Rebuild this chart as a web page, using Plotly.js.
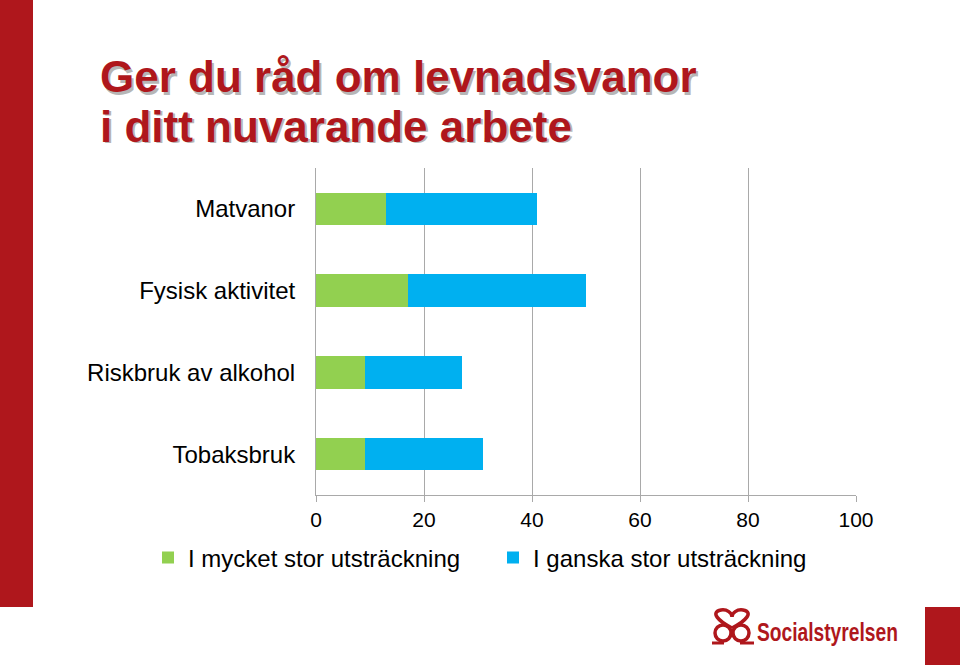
<!DOCTYPE html>
<html>
<head>
<meta charset="utf-8">
<script src="https://cdn.plot.ly/plotly-3.0.1.min.js"></script>
<style>
html,body{margin:0;padding:0;background:#fff;}
#chart{width:960px;height:665px;}
</style>
</head>
<body>
<div id="chart"></div>
<script>
// Data
var categories = ["Matvanor", "Fysisk aktivitet", "Riskbruk av alkohol", "Tobaksbruk"];
var seriesNames = ["I mycket stor utsträckning", "I ganska stor utsträckning"];
var mycketStor = [13, 17, 9, 9];
var ganskaStor = [28, 33, 18, 22];
var xTicks = [0, 20, 40, 60, 80, 100];
var titleLines = ["Ger du råd om levnadsvanor", "i ditt nuvarande arbete"];
var logoText = "Socialstyrelsen";

// Layout geometry (pixels)
var W = 960, H = 665;
var L = 316, R = 856, T = 168, B = 495;
function px(x){ return (x - L) / (R - L); }
function py(y){ return (B - y) / (B - T); }

var red = "#AF171C";
var gridGray = "#A9A9A9";
var font = "Liberation Sans, Arial, sans-serif";

var traces = [
  {type:"bar", orientation:"h", name:seriesNames[0], y:categories, x:mycketStor,
   marker:{color:"#92D050"}, hoverinfo:"x+y"},
  {type:"bar", orientation:"h", name:seriesNames[1], y:categories, x:ganskaStor,
   marker:{color:"#00B0F0"}, hoverinfo:"x+y"}
];

var shapes = [
  {type:"rect", xref:"paper", yref:"paper", x0:px(-5), x1:px(33), y0:py(607), y1:py(-5),
   fillcolor:red, line:{width:0}, layer:"below"},
  {type:"rect", xref:"paper", yref:"paper", x0:px(925), x1:px(965), y0:py(670), y1:py(607),
   fillcolor:red, line:{width:0}, layer:"below"},
  // logo emblem
  {type:"circle", xref:"paper", yref:"paper", x0:px(715), x1:px(731), y0:py(641), y1:py(625),
   line:{color:red, width:3.5}},
  {type:"circle", xref:"paper", yref:"paper", x0:px(733), x1:px(749), y0:py(641), y1:py(625),
   line:{color:red, width:3.5}},
  {type:"path", xref:"paper", yref:"paper",
   path:"M"+px(732)+","+py(628)+" C"+px(718)+","+py(621)+" "+px(710)+","+py(612)+" "+px(721)+","+py(610)+
        " C"+px(727)+","+py(609)+" "+px(732)+","+py(613)+" "+px(732)+","+py(617)+
        " C"+px(732)+","+py(613)+" "+px(737)+","+py(609)+" "+px(743)+","+py(610)+
        " C"+px(754)+","+py(612)+" "+px(746)+","+py(621)+" "+px(732)+","+py(628),
   line:{color:red, width:3.5}},
  {type:"line", xref:"paper", yref:"paper", x0:px(712), x1:px(724), y0:py(643), y1:py(643),
   line:{color:red, width:3}},
  {type:"line", xref:"paper", yref:"paper", x0:px(740), x1:px(754), y0:py(643), y1:py(643),
   line:{color:red, width:3}}
];

var annotations = [];
var titleY = [77, 126];
for (var i = 0; i < titleLines.length; i++) {
  annotations.push({xref:"paper", yref:"paper", x:px(100), y:py(titleY[i]+2), xanchor:"left", yanchor:"middle",
    text:"<b>"+titleLines[i]+"</b>", showarrow:false,
    font:{family:font, size:44, color:"rgba(110,110,110,0.5)"}});
  annotations.push({xref:"paper", yref:"paper", x:px(98), y:py(titleY[i]), xanchor:"left", yanchor:"middle",
    text:"<b>"+titleLines[i]+"</b>", showarrow:false,
    font:{family:font, size:44, color:red}});
}
annotations.push({xref:"paper", yref:"paper", x:px(827.5), y:py(632), xanchor:"center", yanchor:"middle",
  text:"<b>"+logoText+"</b>", showarrow:false,
  font:{family:font, size:26, color:red}});

var layout = {
  width:W, height:H,
  margin:{l:L, r:W-R, t:T, b:H-B, pad:0},
  paper_bgcolor:"#fff", plot_bgcolor:"#fff",
  barmode:"stack", bargap:0.6,
  font:{family:font, size:24, color:"#000"},
  showlegend:true,
  legend:{orientation:"h", x:px(148), y:py(558), xanchor:"left", yanchor:"middle",
          font:{family:font, size:24, color:"#000"}, traceorder:"normal", itemclick:false,
          entrywidth:300, bgcolor:"rgba(0,0,0,0)"},
  xaxis:{range:[0,100], tickvals:xTicks, ticktext:xTicks.map(String), showgrid:true, gridcolor:gridGray, gridwidth:1,
         zeroline:false, showline:true, linecolor:gridGray, linewidth:1, ticks:"outside", ticklen:6,
         tickcolor:gridGray, tickfont:{family:font, size:21, color:"#000"}, fixedrange:true},
  yaxis:{autorange:"reversed", showgrid:false, zeroline:false, showline:true, linecolor:gridGray, linewidth:1,
         ticks:"", ticklabelstandoff:15, tickfont:{family:font, size:24, color:"#000"}, fixedrange:true},
  shapes:shapes,
  annotations:annotations
};

Plotly.newPlot("chart", traces, layout, {displayModeBar:false, staticPlot:true}).then(function(gd){
  // compress the logo word to the width it has in the reference (condensed face)
  var t = gd.querySelector('.annotation[data-index="4"] text');
  if (t) {
    t.setAttribute("textLength", "141");
    t.setAttribute("lengthAdjust", "spacingAndGlyphs");
  }
});
</script>
</body>
</html>
